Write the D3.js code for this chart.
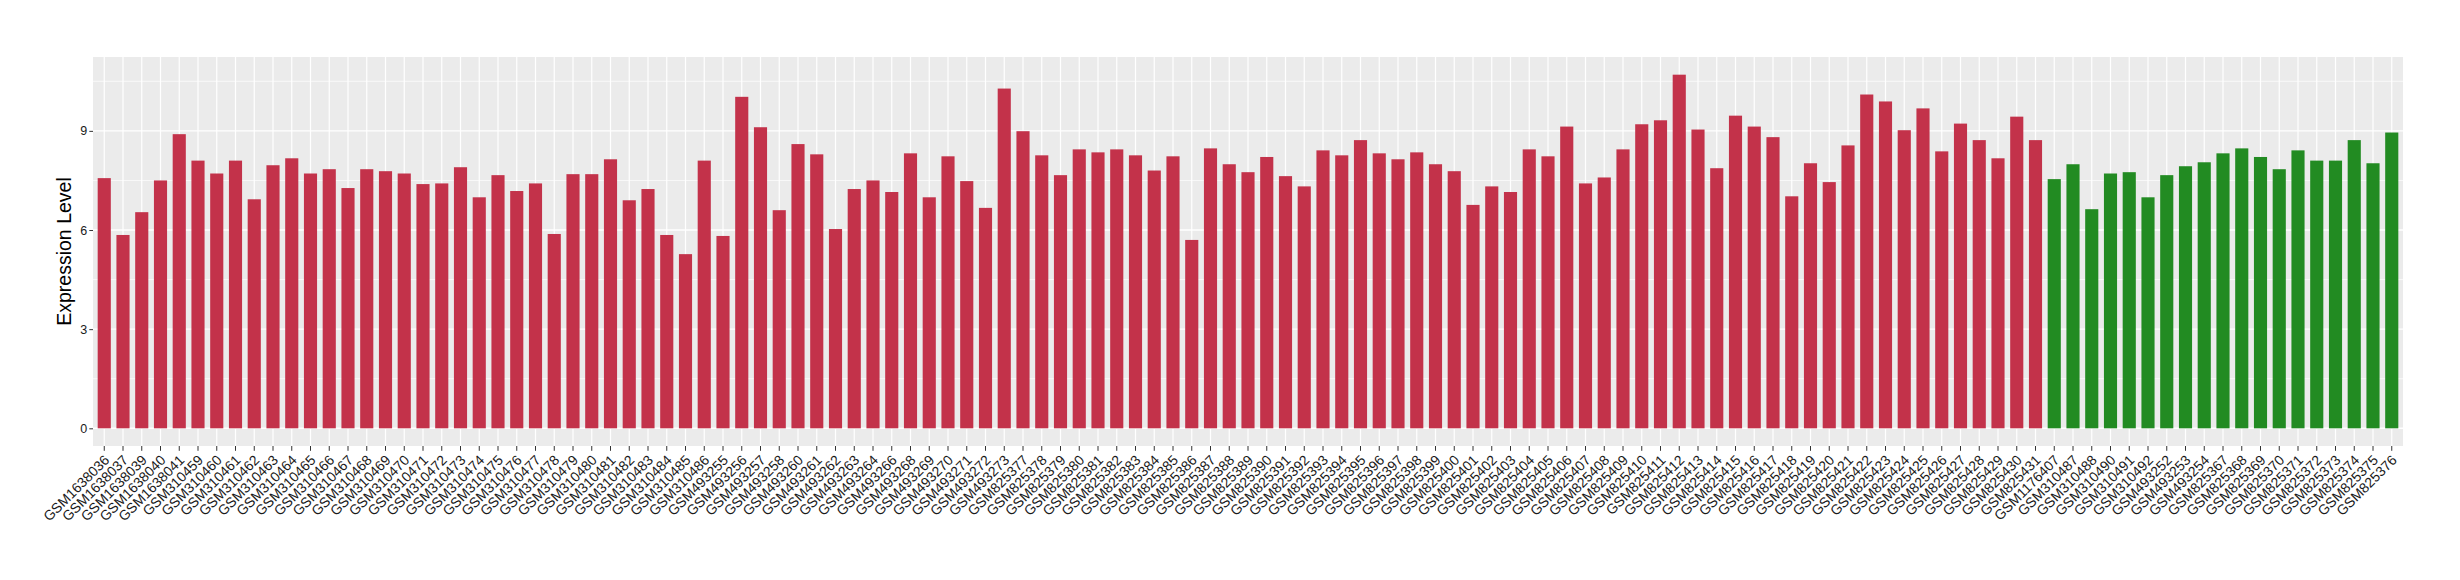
<!DOCTYPE html>
<html>
<head>
<meta charset="utf-8">
<script src="https://cdn.jsdelivr.net/npm/d3@7"></script>
<style>
  body { margin: 0; background: #ffffff; }
  text { font-family: "Liberation Sans", Arial, Helvetica, sans-serif; }
</style>
</head>
<body>
<div id="grafico"></div>
<script>
// samples of the first group (red bars)
var redSamples = ["GSM1638036", "GSM1638037", "GSM1638039", "GSM1638040", "GSM1638041",
    "GSM310459", "GSM310460", "GSM310461", "GSM310462", "GSM310463", "GSM310464", "GSM310465",
    "GSM310466", "GSM310467", "GSM310468", "GSM310469", "GSM310470", "GSM310471", "GSM310472",
    "GSM310473", "GSM310474", "GSM310475", "GSM310476", "GSM310477", "GSM310478", "GSM310479",
    "GSM310480", "GSM310481", "GSM310482", "GSM310483", "GSM310484", "GSM310485", "GSM310486",
    "GSM493255", "GSM493256", "GSM493257", "GSM493258", "GSM493260", "GSM493261", "GSM493262",
    "GSM493263", "GSM493264", "GSM493266", "GSM493268", "GSM493269", "GSM493270", "GSM493271",
    "GSM493272", "GSM493273",
    "GSM825377", "GSM825378", "GSM825379", "GSM825380", "GSM825381", "GSM825382", "GSM825383",
    "GSM825384", "GSM825385", "GSM825386", "GSM825387", "GSM825388", "GSM825389", "GSM825390",
    "GSM825391", "GSM825392", "GSM825393", "GSM825394", "GSM825395", "GSM825396", "GSM825397",
    "GSM825398", "GSM825399", "GSM825400", "GSM825401", "GSM825402", "GSM825403", "GSM825404",
    "GSM825405", "GSM825406", "GSM825407", "GSM825408", "GSM825409", "GSM825410", "GSM825411",
    "GSM825412", "GSM825413", "GSM825414", "GSM825415", "GSM825416", "GSM825417", "GSM825418",
    "GSM825419", "GSM825420", "GSM825421", "GSM825422", "GSM825423", "GSM825424", "GSM825425",
    "GSM825426", "GSM825427", "GSM825428", "GSM825429", "GSM825430", "GSM825431"];
var redValues = [7.57, 5.85, 6.54, 7.50, 8.90,
    8.10, 7.71, 8.10, 6.93, 7.96, 8.17, 7.71,
    7.84, 7.27, 7.84, 7.78, 7.71, 7.39, 7.41,
    7.90, 6.99, 7.66, 7.18, 7.41, 5.88, 7.69,
    7.69, 8.14, 6.90, 7.24, 5.85, 5.27, 8.10,
    5.82, 10.03, 9.11, 6.60, 8.60, 8.29, 6.03,
    7.24, 7.50, 7.15, 8.32, 6.99, 8.23, 7.48,
    6.67, 10.28,
    8.99, 8.26, 7.66, 8.44, 8.35, 8.44, 8.26,
    7.80, 8.23, 5.70, 8.47, 7.99, 7.75, 8.21,
    7.63, 7.32, 8.41, 8.26, 8.72, 8.32, 8.14,
    8.35, 7.99, 7.78, 6.76, 7.32, 7.15, 8.44,
    8.23, 9.13, 7.41, 7.59, 8.44, 9.20, 9.32,
    10.70, 9.04, 7.87, 9.46, 9.13, 8.81, 7.02,
    8.02, 7.45, 8.56, 10.10, 9.89, 9.02, 9.68,
    8.38, 9.22, 8.72, 8.17, 9.43, 8.72];

// samples of the second group (green bars)
var greenSamples = ["GSM1176407", "GSM310487", "GSM310488", "GSM310490", "GSM310491",
    "GSM310492", "GSM493252", "GSM493253", "GSM493254", "GSM825367", "GSM825368",
    "GSM825369", "GSM825370", "GSM825371", "GSM825372", "GSM825373", "GSM825374",
    "GSM825375", "GSM825376"];
var greenValues = [7.54, 7.99, 6.63, 7.71, 7.75,
    6.99, 7.66, 7.93, 8.05, 8.32, 8.47,
    8.21, 7.84, 8.41, 8.10, 8.10, 8.72,
    8.02, 8.95];

var yTicks = [0, 3, 6, 9];
var yMinor = [1.5, 4.5, 7.5, 10.5];
var yTitle = "Expression Level";

var width = 2460,
    height = 580;
var panel = { left: 93, right: 2403, top: 57, bottom: 446 };

var datos = [];
redSamples.forEach(function(s, i) { datos.push({ sample: s, value: redValues[i], grupo: "red" }) });
greenSamples.forEach(function(s, i) { datos.push({ sample: s, value: greenValues[i], grupo: "green" }) });

var svg = d3.select("#grafico").append("svg")
    .attr("width", width)
    .attr("height", height)
    .style("background-color", "#ffffff")

var maxVal = d3.max(datos, function(d) { return d.value });
var pad = maxVal * 0.05;

var x = d3.scaleBand()
    .domain(datos.map(function(d) { return d.sample }))
    .range([panel.left, panel.right])
    .paddingInner(0.3)
    .paddingOuter(0.25);

var y = d3.scaleLinear()
    .domain([-pad, maxVal + pad])
    .range([panel.bottom, panel.top]);

// panel background
svg.append("rect")
    .attr("x", panel.left)
    .attr("y", panel.top)
    .attr("width", panel.right - panel.left)
    .attr("height", panel.bottom - panel.top)
    .attr("fill", "#EBEBEB")

// minor grid
svg.append("g").selectAll("line")
    .data(yMinor)
    .enter()
    .append("line")
    .attr("x1", panel.left)
    .attr("x2", panel.right)
    .attr("y1", function(d) { return y(d) })
    .attr("y2", function(d) { return y(d) })
    .attr("stroke", "#ffffff")
    .attr("stroke-width", 0.7)

// major grid
svg.append("g").selectAll("line")
    .data(yTicks)
    .enter()
    .append("line")
    .attr("x1", panel.left)
    .attr("x2", panel.right)
    .attr("y1", function(d) { return y(d) })
    .attr("y2", function(d) { return y(d) })
    .attr("stroke", "#ffffff")
    .attr("stroke-width", 1.4)

svg.append("g").selectAll("line")
    .data(datos)
    .enter()
    .append("line")
    .attr("x1", function(d) { return x(d.sample) + x.bandwidth() / 2 })
    .attr("x2", function(d) { return x(d.sample) + x.bandwidth() / 2 })
    .attr("y1", panel.top)
    .attr("y2", panel.bottom)
    .attr("stroke", "#ffffff")
    .attr("stroke-width", 1.2)

// bars
svg.append("g").selectAll("rect")
    .data(datos)
    .enter()
    .append("rect")
    .attr("x", function(d) { return x(d.sample) })
    .attr("width", x.bandwidth())
    .attr("y", function(d) { return y(d.value) })
    .attr("height", function(d) { return y(0) - y(d.value) })
    .attr("fill", function(d) {
        if (d.grupo === "red") {
            return "#C3324A"
        } else {
            return "#228B22"
        }
    })

// y axis
var yAxis = svg.append("g")
    .attr("transform", "translate(" + panel.left + ",0)")
    .call(d3.axisLeft(y).tickValues(yTicks).tickSize(3.7).tickPadding(2))
yAxis.select(".domain").remove()
yAxis.selectAll(".tick line").attr("stroke", "#333333").attr("stroke-width", 1)
yAxis.selectAll(".tick text")
    .style("font-size", "12.5px")
    .attr("fill", "#1a1a1a")
    .style("font-family", "'Liberation Sans', Arial, sans-serif")

// x axis
var xAxis = svg.append("g")
    .attr("transform", "translate(0," + panel.bottom + ")")
    .call(d3.axisBottom(x).tickSize(4.8).tickPadding(2))
xAxis.select(".domain").remove()
xAxis.selectAll(".tick line").attr("stroke", "#333333").attr("stroke-width", 1)
xAxis.selectAll(".tick text")
    .style("font-size", "14px")
    .attr("fill", "#1a1a1a")
    .style("font-family", "'Liberation Sans', Arial, sans-serif")
    .attr("text-anchor", "end")
    .attr("y", 0)
    .attr("dy", "0")
    .attr("transform", "translate(6,15) rotate(-45)")

// y title
svg.append("text")
    .attr("transform", "translate(71," + ((panel.top + panel.bottom) / 2) + ") rotate(-90)")
    .attr("text-anchor", "middle")
    .style("font-size", "19.5px")
    .attr("fill", "#000000")
    .text(yTitle);
</script>
</body>
</html>
